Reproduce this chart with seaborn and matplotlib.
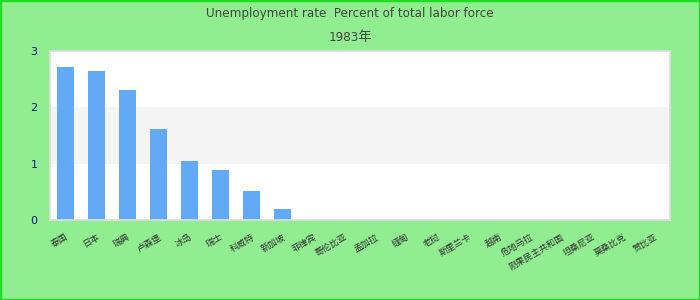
import matplotlib
matplotlib.use("Agg")
import matplotlib.pyplot as plt
import seaborn as sns
import pandas as pd
from matplotlib.patches import Rectangle

countries = ["泰国", "日本", "瑞典", "卢森堡", "冰岛", "瑞士", "科威特", "新加坡", "菲律宾", "哥伦比亚",
             "孟加拉", "缅甸", "老挝", "斯里兰卡", "越南", "危地马拉", "刚果民主共和国", "坦桑尼亚", "莫桑比克", "赞比亚"]
rates = [2.72, 2.65, 2.31, 1.62, 1.04, 0.88, 0.51, 0.19, 0, 0,
         0, 0, 0, 0, 0, 0, 0, 0, 0, 0]
yticks = [0, 1, 2, 3]
title_line1 = "Unemployment rate  Percent of total labor force"
title_line2 = "1983年"

sns.set_theme(style="white")
plt.rcParams['font.family'] = ['DejaVu Sans', 'Noto Sans CJK SC']

df = pd.DataFrame({"country": countries, "rate": rates})

fig = plt.figure(figsize=(7, 3), dpi=100)
fig.patch.set_facecolor("#90EE90")
fig.patches.append(Rectangle((0, 0), 1, 1, transform=fig.transFigure, fill=False,
                             edgecolor="#22dd22", linewidth=2.5, zorder=10))

ax = fig.add_axes([50/700, 80/300, 620/700, 169/300])
ax.set_facecolor("white")
ax.axhspan(1, 2, color="#f4f4f4", zorder=0, linewidth=0)

sns.barplot(data=df, x="country", y="rate", color="#62aaf5", saturation=1,
            width=0.55, ax=ax, zorder=2, linewidth=0, edgecolor="none")

ax.set_ylim(0, 3)
ax.set_xlim(-0.5, len(countries) - 0.5)
ax.set_yticks(yticks)
ax.set_yticklabels([str(t) for t in yticks], color="#1a1a8c", fontsize=8)
ax.tick_params(axis="y", length=0, pad=9)
ax.tick_params(axis="x", length=0, pad=9)
ax.set_xticks(range(len(countries)))
ax.set_xticklabels(countries, rotation=30, ha="right", rotation_mode="anchor",
                   fontsize=6.4, color="#333333")
ax.set_xlabel("")
ax.set_ylabel("")
for s in ax.spines.values():
    s.set_color("#dddddd")
    s.set_linewidth(1.2)

fig.text(0.5, 1 - 14/300, title_line1, ha="center", va="center", fontsize=9.5,
         color="#444444", family=["Liberation Sans Narrow", "DejaVu Sans"], fontstretch="condensed")
fig.text(0.5, 1 - 38/300, title_line2, ha="center", va="center", fontsize=9.5,
         color="#444444", family=["Liberation Sans Narrow", "DejaVu Sans", "Noto Sans CJK SC"],
         fontstretch="condensed")

fig.savefig("out.png", dpi=100, facecolor=fig.get_facecolor())
